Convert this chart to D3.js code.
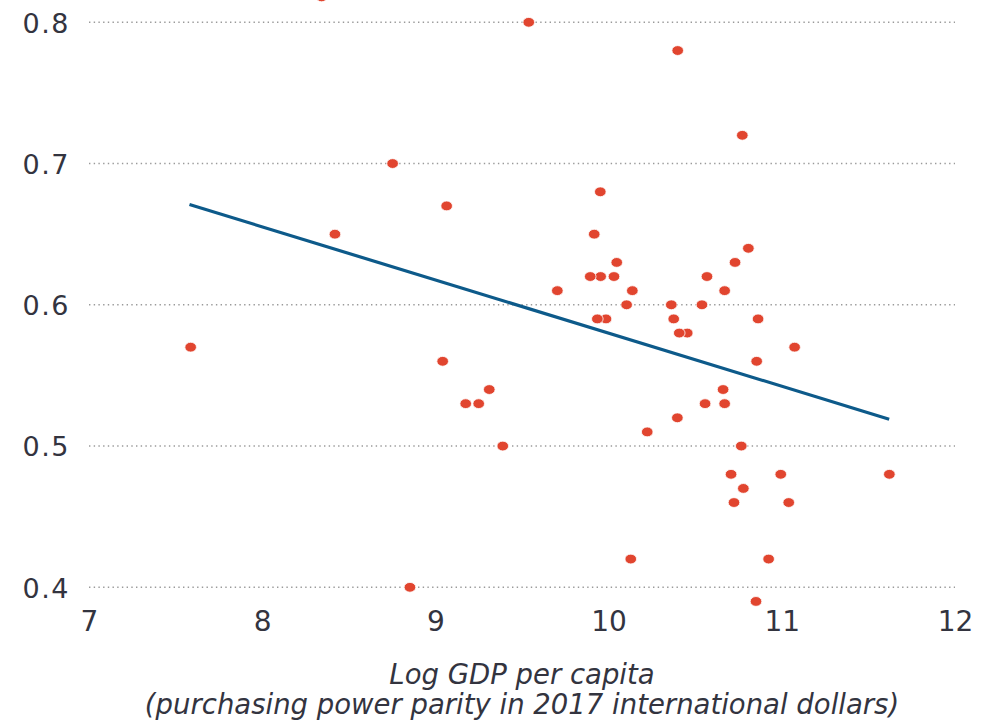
<!DOCTYPE html>
<html>
<head>
<meta charset="utf-8">
<script src="https://cdn.jsdelivr.net/npm/d3@7/dist/d3.min.js"></script>
<style>
  html, body { margin: 0; padding: 0; background: #ffffff; }
  svg { display: block; }
</style>
</head>
<body>
<svg id="chart" width="983" height="722"></svg>
<script>
// Log GDP per capita (PPP, 2017 international dollars) for each country
const gdpLog = [
  8.343, 9.539, 10.399, 10.772, 8.753, 9.952, 9.065, 8.420, 9.917, 10.807,
  10.047, 10.730, 9.894, 9.954, 10.031, 10.568, 9.704, 10.137, 10.670,
  10.104, 10.362, 10.539,
  9.935, 9.985, 10.376, 10.863, 10.408, 10.454, 7.587, 11.074, 9.042, 10.855,
  9.311, 10.661, 9.175, 9.250, 10.557, 10.670, 10.397, 10.223, 9.389, 10.766,
  10.707, 10.994, 11.621, 10.778, 10.724, 11.040, 10.128, 10.924, 8.853, 10.851
];
// Matching values on the vertical axis
const yValues = [
  0.818, 0.80, 0.78, 0.72, 0.70, 0.68, 0.67, 0.65, 0.65, 0.64,
  0.63, 0.63, 0.62, 0.62, 0.62, 0.62, 0.61, 0.61, 0.61,
  0.60, 0.60, 0.60,
  0.59, 0.59, 0.59, 0.59, 0.58, 0.58, 0.57, 0.57, 0.56, 0.56,
  0.54, 0.54, 0.53, 0.53, 0.53, 0.53, 0.52, 0.51, 0.50, 0.50,
  0.48, 0.48, 0.48, 0.47, 0.46, 0.46, 0.42, 0.42, 0.40, 0.39
];
// Fitted linear trend, given by its two end points
const trendX = [7.58, 11.62];
const trendY = [0.671, 0.519];

const xTicks = [7, 8, 9, 10, 11, 12];
const yTicks = [0.4, 0.5, 0.6, 0.7, 0.8];
const xTitle = ["Log GDP per capita", "(purchasing power parity in 2017 international dollars)"];

const textColor = "#33343f";
const dotColor = "#e1452f";
const lineColor = "#0d5a8a";
const fontFamily = "'DejaVu Sans', sans-serif";

const svg = d3.select("#chart");

const x = d3.scaleLinear().domain([7, 12]).range([89, 955]);
const y = d3.scaleLinear().domain([0.4, 0.8]).range([587.3, 22.3]);

// Dotted horizontal gridlines
svg.append("g")
  .selectAll("line")
  .data(yTicks)
  .join("line")
  .attr("x1", x(7)).attr("x2", x(12))
  .attr("y1", d => y(d)).attr("y2", d => y(d))
  .attr("stroke", "#9a9a9a")
  .attr("stroke-width", 1.4)
  .attr("stroke-dasharray", "1.4,3.3");

// Y axis labels (no axis line)
const yAxis = svg.append("g")
  .attr("transform", `translate(${x(7) - 19},0)`)
  .call(d3.axisLeft(y).tickValues(yTicks).tickFormat(d3.format(".1f")).tickSize(0).tickPadding(0));
yAxis.select(".domain").remove();
yAxis.selectAll("text")
  .attr("font-family", fontFamily)
  .attr("font-size", 27)
  .attr("fill", textColor)
  .attr("letter-spacing", 1.5)
  .attr("dy", "0.36em");

// X axis labels (no axis line)
const xAxis = svg.append("g")
  .attr("transform", `translate(0,${y(0.4) + 24})`)
  .call(d3.axisBottom(x).tickValues(xTicks).tickFormat(d3.format("d")).tickSize(0).tickPadding(0));
xAxis.select(".domain").remove();
xAxis.selectAll("text")
  .attr("font-family", fontFamily)
  .attr("font-size", 28)
  .attr("fill", textColor)
  .attr("dy", "0.71em");

// Trend line
svg.append("path")
  .datum(trendX.map((v, i) => [v, trendY[i]]))
  .attr("fill", "none")
  .attr("stroke", lineColor)
  .attr("stroke-width", 3.2)
  .attr("d", d3.line().x(d => x(d[0])).y(d => y(d[1])));

// Country points; the leftmost are drawn last so they sit on top
const points = gdpLog.map((v, i) => ({ gx: v, gy: yValues[i] }))
  .sort((a, b) => b.gx - a.gx);
svg.append("g")
  .selectAll("ellipse")
  .data(points)
  .join("ellipse")
  .attr("cx", d => x(d.gx))
  .attr("cy", d => y(d.gy))
  .attr("rx", 5.8)
  .attr("ry", 4.9)
  .attr("fill", dotColor)
  .attr("stroke", "#ffffff")
  .attr("stroke-width", 0.8);

// X axis title
const title = svg.append("text")
  .attr("text-anchor", "middle")
  .attr("font-family", fontFamily)
  .attr("font-style", "italic")
  .attr("font-size", 27.5)
  .attr("fill", textColor);
title.selectAll("tspan")
  .data(xTitle)
  .join("tspan")
  .attr("x", 522)
  .attr("y", (d, i) => 684 + i * 30)
  .text(d => d);
</script>
</body>
</html>
